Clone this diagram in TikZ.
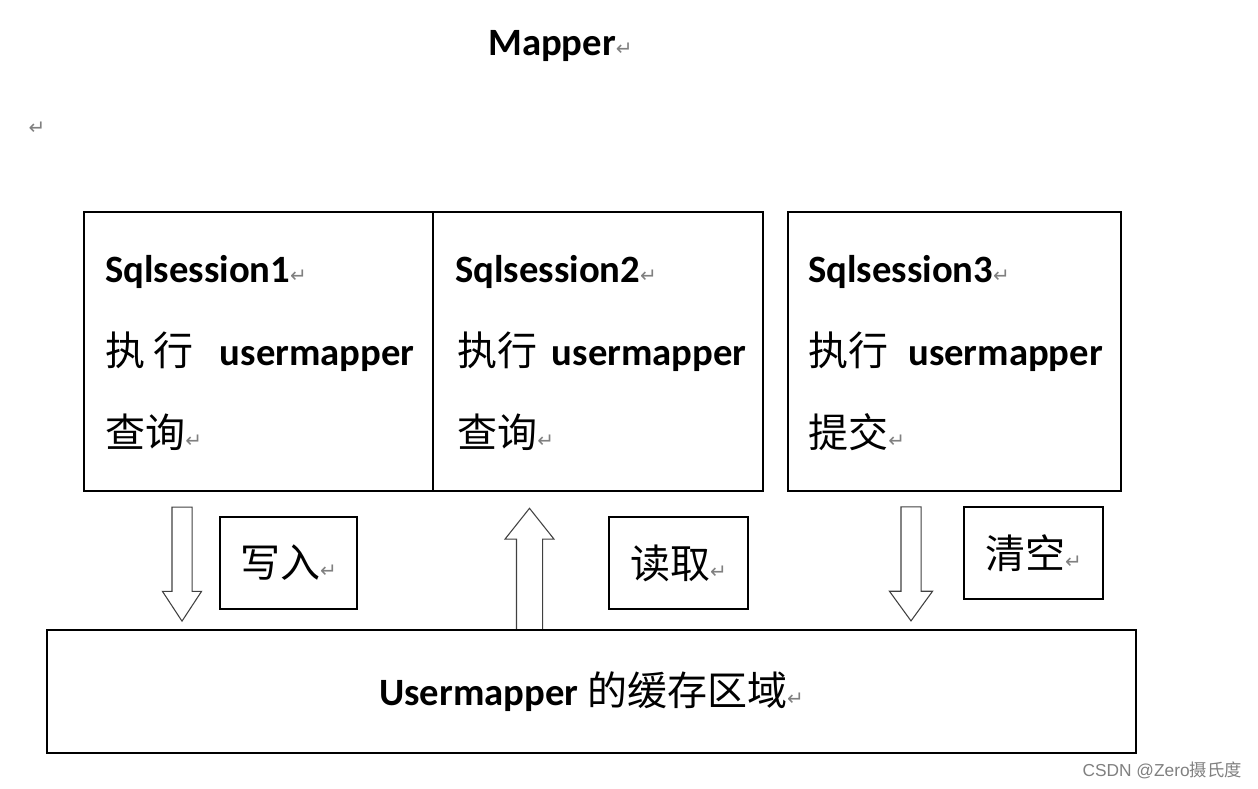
\documentclass[tikz,border=0pt]{standalone}
\usepackage{fontspec}
\usepackage{tikz}
\usetikzlibrary{shapes.arrows}
\setmainfont{Carlito}
\newfontfamily\cjkfont{Noto Sans CJK SC}
\newfontfamily\markfont{DejaVu Sans}
\newfontfamily\wmfont{Liberation Sans}
\newcommand{\retmark}{{\markfont\mdseries\fontsize{15}{15}\selectfont\textcolor{gray}{↵}}}
\newcommand{\zh}[1]{{\cjkfont\mdseries\fontsize{30}{30}\selectfont #1}}

\tikzset{
    box/.style={draw, line width=1pt, minimum height=209.25pt, inner sep=0pt},
    lbl/.style={anchor=base west, inner sep=0pt, font=\bfseries\fontsize{29}{30}\selectfont},
    tagbox/.style={draw, line width=1pt, minimum width=104.25pt, minimum height=69pt, inner sep=0pt},
    blockarrow/.style={single arrow, draw=black!75, line width=0.8pt, inner xsep=0pt, single arrow head indent=0pt},
}

\begin{document}
\begin{tikzpicture}[x=0.75pt,y=-0.75pt]
        \useasboundingbox (0,0) rectangle (1258,789);
        \node[lbl] (title) at (488,55) {Mapper\retmark};
        \node[inner sep=0pt] (blank) at (37,128) {\retmark};
        % sessions
        \node[box, minimum width=261.75pt] (ses1) at (258.5,351.5) {};
        \node[box, minimum width=247.5pt] (ses2) at (598,351.5) {};
        \node[box, minimum width=249.75pt] (ses3) at (954.5,351.5) {};
        \node[lbl] (ses1a) at (105,282) {Sqlsession1\retmark};
        \node[lbl] (ses1b) at (105,365) {\zh{执\hspace{6pt}行}\hspace{20pt}usermapper};
        \node[lbl] (ses1c) at (105,447) {\zh{查询}\retmark};
        \node[lbl] (ses2a) at (455,282) {Sqlsession2\retmark};
        \node[lbl] (ses2b) at (457,365) {\zh{执行}\hspace{11pt}usermapper};
        \node[lbl] (ses2c) at (457,447) {\zh{查询}\retmark};
        \node[lbl] (ses3a) at (808,282) {Sqlsession3\retmark};
        \node[lbl] (ses3b) at (808,365) {\zh{执行}\hspace{15pt}usermapper};
        \node[lbl] (ses3c) at (808,447) {\zh{提交}\retmark};
        % arrows and their labels
        \node[blockarrow, rotate=-90, inner ysep=7.125pt, minimum height=85.5pt, single arrow head extend=7.125pt, single arrow tip angle=66.5] (write) at (182,556.5) {};
        \node[blockarrow, rotate=90, inner ysep=9.375pt, minimum height=91.5pt, single arrow head extend=8.625pt, single arrow tip angle=77] (read) at (529.5,577.5) {};
        \node[blockarrow, rotate=-90, inner ysep=7.125pt, minimum height=85.5pt, single arrow head extend=8.625pt, single arrow tip angle=72] (clear) at (911,557) {};
        \node[tagbox, minimum width=102.75pt] (writetag) at (288.5,563) {\zh{写入}\retmark};
        \node[tagbox] (readtag) at (678.5,563) {\zh{读取}\retmark};
        \node[tagbox] (cleartag) at (1033.5,553) {\zh{清空}\retmark};
        % cache
        \node[draw, line width=1pt, minimum width=816.75pt, minimum height=92.25pt, inner sep=0pt, font=\bfseries\fontsize{29}{30}\selectfont] (cache) at (591.5,691.5) {Usermapper \zh{的缓存区域}\retmark};
        \node[anchor=base east, inner sep=0pt, text=gray, font=\wmfont\fontsize{13}{14}\selectfont] (mark) at (1242,776) {CSDN @Zero{\cjkfont 摄氏度}};
\end{tikzpicture}
\end{document}
